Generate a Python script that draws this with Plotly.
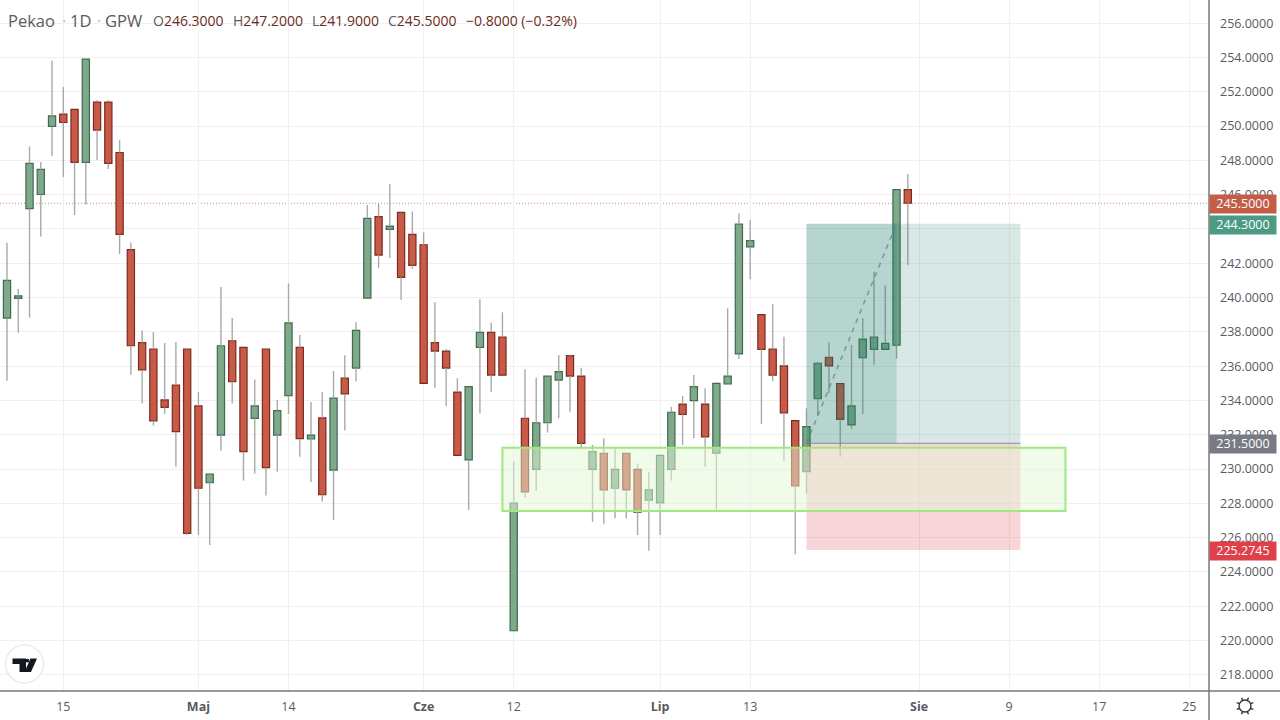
import math
import numpy as np
import plotly.graph_objects as go

# ---- data -------------------------------------------------------------
opens = [238.8,239.95,245.19,246.01,249.98,250.7,250.97,247.88,251.4,251.4,248.46,242.8,237.37,237.0,234.03,234.9,237.0,233.68,229.2,231.98,
         237.48,237.09,232.95,237.0,231.98,234.28,237.09,231.75,232.98,229.94,235.31,235.89,239.97,244.72,243.98,244.97,243.69,243.08,237.37,236.88,
         234.49,230.53,237.1,237.97,237.7,220.57,232.96,229.98,232.7,235.19,236.61,235.42,229.98,230.92,228.88,230.92,229.98,228.18,228.02,229.98,
         233.79,233.99,233.79,230.92,234.96,236.71,242.95,239.0,237.0,236.01,232.82,229.84,234.1,236.52,234.98,232.57,236.49,236.98,236.98,237.22,246.3]
highs = [243.2,240.5,248.81,247.9,253.81,252.28,250.97,253.95,251.52,251.52,249.19,243.21,238.08,237.99,237.35,237.41,237.05,234.5,229.71,240.62,
         238.81,237.09,235.22,237.0,234.03,240.82,237.82,233.91,234.49,235.72,236.63,238.57,245.4,245.46,246.62,245.0,245.01,243.8,239.72,237.0,
         235.29,234.8,239.9,238.53,239.14,230.43,235.82,235.33,235.45,236.65,236.65,235.91,231.4,231.79,231.21,230.92,230.33,229.84,230.8,233.63,
         234.26,235.48,234.71,235.0,239.37,244.91,244.52,239.0,239.61,237.72,232.82,233.54,236.26,237.39,234.98,237.23,238.79,241.51,240.71,246.3,247.2]
lows = [235.15,237.95,238.83,243.56,248.26,247.03,244.81,245.43,248.02,247.5,242.54,235.5,233.82,232.54,233.21,230.14,226.15,226.15,225.57,231.07,
        233.82,229.32,229.74,228.45,229.84,233.21,230.72,229.25,228.1,227.03,232.24,235.12,239.97,241.71,242.31,239.86,241.68,235.0,234.74,233.68,
        230.8,227.61,233.25,234.51,235.48,220.57,228.33,228.72,232.12,232.96,233.34,231.15,226.93,226.81,227.13,227.13,226.15,225.24,226.15,229.32,
        231.4,231.79,230.14,227.61,234.96,236.42,241.07,232.63,235.13,230.47,225.03,228.54,233.11,234.42,230.72,232.34,233.21,236.08,236.98,236.43,241.9]
closes = [241.0,240.1,247.82,247.47,250.59,250.21,247.88,253.91,249.77,247.82,243.68,237.19,235.78,232.8,233.6,232.18,226.25,228.88,229.71,237.19,
          235.09,231.01,233.68,230.08,233.41,238.52,231.77,231.98,228.5,234.13,234.38,238.09,244.62,242.48,244.17,241.18,241.88,235.0,236.88,235.89,
          230.8,234.8,237.97,235.48,235.48,228.02,228.66,232.7,235.42,235.68,235.42,231.5,231.01,228.78,229.98,228.78,227.49,228.78,230.8,233.31,
          233.19,234.8,231.88,235.0,235.42,244.29,243.32,236.98,235.47,233.28,229.01,232.47,236.17,236.01,232.9,233.68,237.58,237.7,237.33,246.29,245.5]
bar_index = list(range(len(opens)))

tick_positions = [5, 17, 25, 37, 45, 58, 66, 81, 89, 97, 105]
tick_labels = ["15", "<b>Maj</b>", "14", "<b>Cze</b>", "12", "<b>Lip</b>", "13", "<b>Sie</b>", "9", "17", "25"]
price_ticks = list(range(218, 258, 2))

last_price = 245.5
target_price = 244.3
entry_price = 231.5
stop_price = 225.2745
tool_start, tool_now, tool_end = 71, 79, 90
zone_start, zone_end = 44, 94
zone_top, zone_bottom = 231.24, 227.55

# ---- layout constants --------------------------------------------------
W, H = 1280, 720
PLOT_R, PLOT_B = 1209, 691
FONT = "Open Sans, DejaVu Sans, sans-serif"
TEXT = "#5a5a5e"
VAL = "#6b2b22"
GREEN, GREEN_D = "#7ea98a", "#3f6a50"
RED, RED_D = "#c75b48", "#7c2a1f"
WICK = "#a9a9a9"


def px(x):
    return x / PLOT_R


def py(y):
    return 1 - y / PLOT_B


def path(points, close=True):
    s = "M" + " L".join(f"{px(a):.5f},{py(b):.5f}" for a, b in points)
    return s + (" Z" if close else "")


body_hi = np.maximum(opens, closes)
body_lo = np.minimum(opens, closes)
is_up = np.array(closes) >= np.array(opens)

# wick segments run from the high to the body and from the body to the low
wick_x, wick_y = [], []
for i, h, t, b, l in zip(bar_index, highs, body_hi, body_lo, lows):
    wick_x += [i, i, None, i, i, None]
    wick_y += [h, float(t), None, float(b), l, None]

fig = go.Figure()
fig.add_trace(go.Bar(
    x=bar_index, y=(body_hi - body_lo).tolist(), base=body_lo.tolist(), width=0.64,
    marker=dict(color=[GREEN if u else RED for u in is_up],
                line=dict(color=[GREEN_D if u else RED_D for u in is_up], width=1.2)),
    hoverinfo="skip", showlegend=False))
fig.add_trace(go.Scatter(
    x=wick_x, y=wick_y, mode="lines", line=dict(color=WICK, width=1.4),
    hoverinfo="skip", showlegend=False))
fig.add_trace(go.Scatter(
    x=[tool_start, tool_now], y=[entry_price, target_price], mode="lines",
    line=dict(color="rgba(130,135,140,0.7)", width=1.6, dash="5px,5px"),
    hoverinfo="skip", showlegend=False))
fig.add_trace(go.Scatter(
    x=[tool_start, tool_now], y=[entry_price, target_price], mode="markers",
    marker=dict(symbol="arrow-open", size=[0, 9], angleref="previous",
                color="rgba(0,0,0,0)", line=dict(color="rgba(130,135,140,0.7)", width=1.3)),
    hoverinfo="skip", showlegend=False))

shapes = []
# last price line under the candles
shapes.append(dict(type="line", xref="paper", yref="y", x0=0, x1=1, y0=last_price, y1=last_price, layer="below",
                   line=dict(color="rgba(199,91,72,0.75)", width=1, dash="1px,2px")))
# position tool
PROFIT = "rgba(33,125,110,0.18)"
shapes += [
    dict(type="rect", xref="x", yref="y", x0=tool_start, x1=tool_end, y0=entry_price, y1=target_price, fillcolor=PROFIT, line_width=0, layer="above"),
    dict(type="rect", xref="x", yref="y", x0=tool_start, x1=tool_now, y0=entry_price, y1=target_price, fillcolor=PROFIT, line_width=0, layer="above"),
    dict(type="rect", xref="x", yref="y", x0=tool_start, x1=tool_end, y0=stop_price, y1=entry_price, fillcolor="rgba(215,45,65,0.2)", line_width=0, layer="above"),
    dict(type="line", xref="x", yref="y", x0=tool_start, x1=tool_end, y0=entry_price, y1=entry_price, line=dict(color="rgba(120,123,134,0.8)", width=1), layer="above"),
    dict(type="rect", xref="x", yref="y", x0=zone_start, x1=zone_end, y0=zone_bottom, y1=zone_top, fillcolor="rgba(228,247,214,0.5)", line=dict(color="#9fe880", width=2), layer="above"),
]
# axis frame
shapes += [
    dict(type="line", xref="paper", yref="paper", x0=0, x1=W / PLOT_R, y0=0, y1=0, line=dict(color="#77797f", width=1.5), layer="above"),
    dict(type="line", xref="paper", yref="paper", x0=1, x1=1, y0=py(H), y1=1, line=dict(color="#77797f", width=1.5), layer="above"),
]
# TradingView logo
lx, ly, lr = 24.5, 664, 19
shapes.append(dict(type="circle", xref="paper", yref="paper", x0=px(lx - lr), x1=px(lx + lr), y0=py(ly + lr), y1=py(ly - lr),
                   fillcolor="white", line=dict(color="#efe9ea", width=1.5), layer="above"))
shapes.append(dict(type="path", xref="paper", yref="paper", layer="above", fillcolor="#131722", line_width=0,
                   path=path([(12.5, 658.5), (26, 658.5), (26, 672), (19.5, 672), (19.5, 664), (12.5, 664)])))
shapes.append(dict(type="circle", xref="paper", yref="paper", x0=px(25.5), x1=px(29.3), y0=py(662.5), y1=py(658.7),
                   fillcolor="#131722", line_width=0, layer="above"))
shapes.append(dict(type="path", xref="paper", yref="paper", layer="above", fillcolor="#131722", line_width=0,
                   path=path([(30.5, 658.5), (37, 658.5), (31, 672), (24.5, 672)])))
# settings sun
sx, sy = 1245, 706
shapes.append(dict(type="circle", xref="paper", yref="paper", x0=px(sx - 6), x1=px(sx + 6), y0=py(sy + 6), y1=py(sy - 6),
                   fillcolor="rgba(0,0,0,0)", line=dict(color="#33363f", width=1.4), layer="above"))
for k in range(8):
    a = math.pi / 4 * k + math.pi / 8
    shapes.append(dict(type="line", xref="paper", yref="paper", layer="above",
                       x0=px(sx + 6 * math.cos(a)), x1=px(sx + 9 * math.cos(a)),
                       y0=py(sy + 6 * math.sin(a)), y1=py(sy + 9 * math.sin(a)),
                       line=dict(color="#33363f", width=1.4)))

annotations = []


def legend(x, text, size, color=TEXT):
    annotations.append(dict(xref="paper", yref="paper", x=px(x), y=py(20.5), xanchor="left", yanchor="middle", showarrow=False,
                            text=text, align="left", font=dict(family=FONT, size=size, color=color)))


legend(6, "Pekao", 16.5)
legend(60, "·", 16.5, "#b9bdc6")
legend(68, "1D", 16.5)
legend(95, "·", 16.5, "#b9bdc6")
legend(103, "GPW", 16.5)
for x, lab, val in [(151, "O", "246.3000"), (231, "H", "247.2000"), (310, "L", "241.9000"), (386, "C", "245.5000")]:
    legend(x, f"{lab}<span style='color:{VAL}'>{val}</span>", 14)
legend(464, "−0.8000 (−0.32%)", 14, VAL)


def price_tag(price, text, bg):
    annotations.append(dict(xref="paper", yref="y", x=1, y=price, xanchor="left", yanchor="middle", showarrow=False,
                            text=text, width=64, height=15.5, bgcolor=bg, borderpad=1, align="center", yshift=-0.7,
                            font=dict(family=FONT, size=12.5, color="white")))


price_tag(last_price, "245.5000", "#c55c47")
price_tag(target_price, "244.3000", "#4b9a83")
price_tag(entry_price, "231.5000", "#787a86")
price_tag(stop_price, "225.2745", "#de4149")

fig.update_layout(
    width=W, height=H, margin=dict(l=0, r=W - PLOT_R, t=0, b=H - PLOT_B),
    paper_bgcolor="white", plot_bgcolor="white", showlegend=False, hovermode=False, dragmode=False,
    barmode="overlay", shapes=shapes, annotations=annotations,
    xaxis=dict(range=[-0.622, 106.75], tickmode="array", tickvals=tick_positions, ticktext=tick_labels,
               showgrid=True, gridcolor="#f1eff1", gridwidth=1, zeroline=False, showline=False, ticks="",
               tickangle=0, ticklabelstandoff=6,
               tickfont=dict(family=FONT, size=12.5, color=TEXT)),
    yaxis=dict(side="right", range=[217.055, 257.353], tickmode="array", tickvals=price_ticks,
               ticktext=[f"{v:.4f}" for v in price_ticks], showgrid=True, gridcolor="#f1eff1", gridwidth=1,
               zeroline=False, showline=False, ticks="", ticklabelstandoff=10,
               tickfont=dict(family=FONT, size=12.5, color=TEXT)),
)

fig.write_html("out.html", config=dict(displayModeBar=False, staticPlot=True),
               post_script="document.body.style.margin='0';document.body.style.overflow='hidden';")
